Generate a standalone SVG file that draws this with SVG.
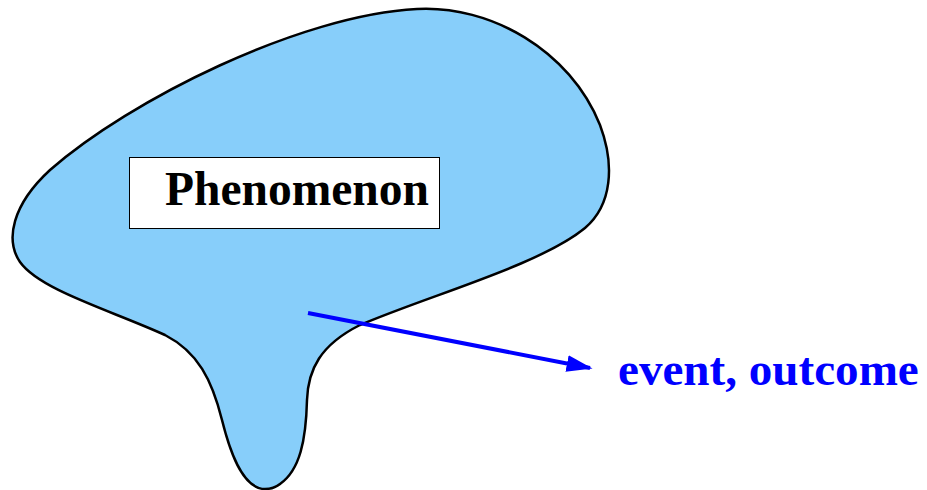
<svg xmlns="http://www.w3.org/2000/svg" width="927" height="490" viewBox="0 0 927 490">
<style>
.blob{fill:#87cefa;stroke:#000;stroke-width:2.5}
.box{fill:#fff;stroke:#000;stroke-width:1}
.lbl{font-family:"Liberation Serif",serif;font-weight:bold;font-size:47.5px}
.arrow{stroke:#0000ff;stroke-width:4;fill:none}
</style>
<defs>
<marker id="ah" viewBox="0 0 10 10" refX="9" refY="5" markerWidth="6.5" markerHeight="4.2" orient="auto" markerUnits="strokeWidth" preserveAspectRatio="none">
<path d="M0,0 L10,5 L0,10 Z" fill="#0000ff"/>
</marker>
</defs>
<g id="phenomenon">
<path class="blob" d="M265,489 C245,489 232,460 222,420 C212,380 198,352 165,335 C110,310 40,290 20,262 C5,240 12,205 50,170 C130,100 300,15 417,9 C490,5 570,50 600,125 C615,165 612,205 585,228 C540,265 430,295 360,325 C320,345 308,370 307,400 C306,440 300,470 280,484 C275,488 270,489 265,489 Z"/>
<rect class="box" x="129.5" y="157.5" width="310" height="71"/>
<text class="lbl" x="165" y="205" fill="#000">Phenomenon</text>
</g>
<g id="connectors">
<line class="arrow" x1="308" y1="313" x2="590" y2="368" marker-end="url(#ah)"/>
</g>
<g id="outcome">
<text class="lbl" x="618" y="385" fill="#0000ff" style="font-size:47.1px">event, outcome</text>
</g>
</svg>
